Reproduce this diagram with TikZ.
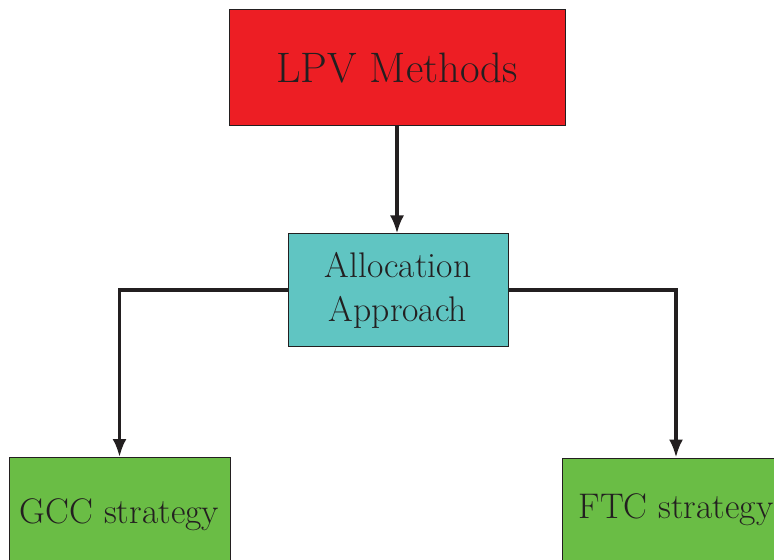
\documentclass[tikz,border=0pt]{standalone}
\usepackage{tikz}
\usetikzlibrary{arrows.meta}
\usepackage{xcolor}
\definecolor{LPVRed}{RGB}{237,30,36}
\definecolor{AllocTeal}{RGB}{96,197,194}
\definecolor{StratGreen}{RGB}{106,189,69}
\definecolor{InkGray}{RGB}{35,31,32}

\begin{document}
\begin{tikzpicture}[
x=0.5pt,y=-0.5pt,
box/.style={rectangle,draw=InkGray,line width=0.5pt,text=InkGray,align=center,
inner sep=0pt,font=\fontsize{17.8}{22}\selectfont},
arrow/.style={-{Latex[length=9pt,width=7pt]},line width=1.6pt,draw=InkGray}
]
\clip (0,0) rectangle (774,560);
\node[box,fill=LPVRed,minimum width=168pt,minimum height=58pt,
font=\fontsize{21.3}{26}\selectfont] (lpv) at (397,68) {LPV Methods};
\node[box,fill=AllocTeal,minimum width=110pt,minimum height=56pt] (alloc) at (398,290) {Allocation\\Approach};
\node[box,fill=StratGreen,minimum width=110.5pt,minimum height=57pt] (gcc) at (119.5,514.5) {GCC strategy};
\node[box,fill=StratGreen,minimum width=114pt,minimum height=52pt] (ftc) at (676,510) {FTC strategy};
\draw[arrow] (lpv.south)--(lpv.south|-alloc.north);
\draw[arrow] (alloc.west)-|(gcc.north);
\draw[arrow] (alloc.east)-|(ftc.north);
\end{tikzpicture}
\end{document}
